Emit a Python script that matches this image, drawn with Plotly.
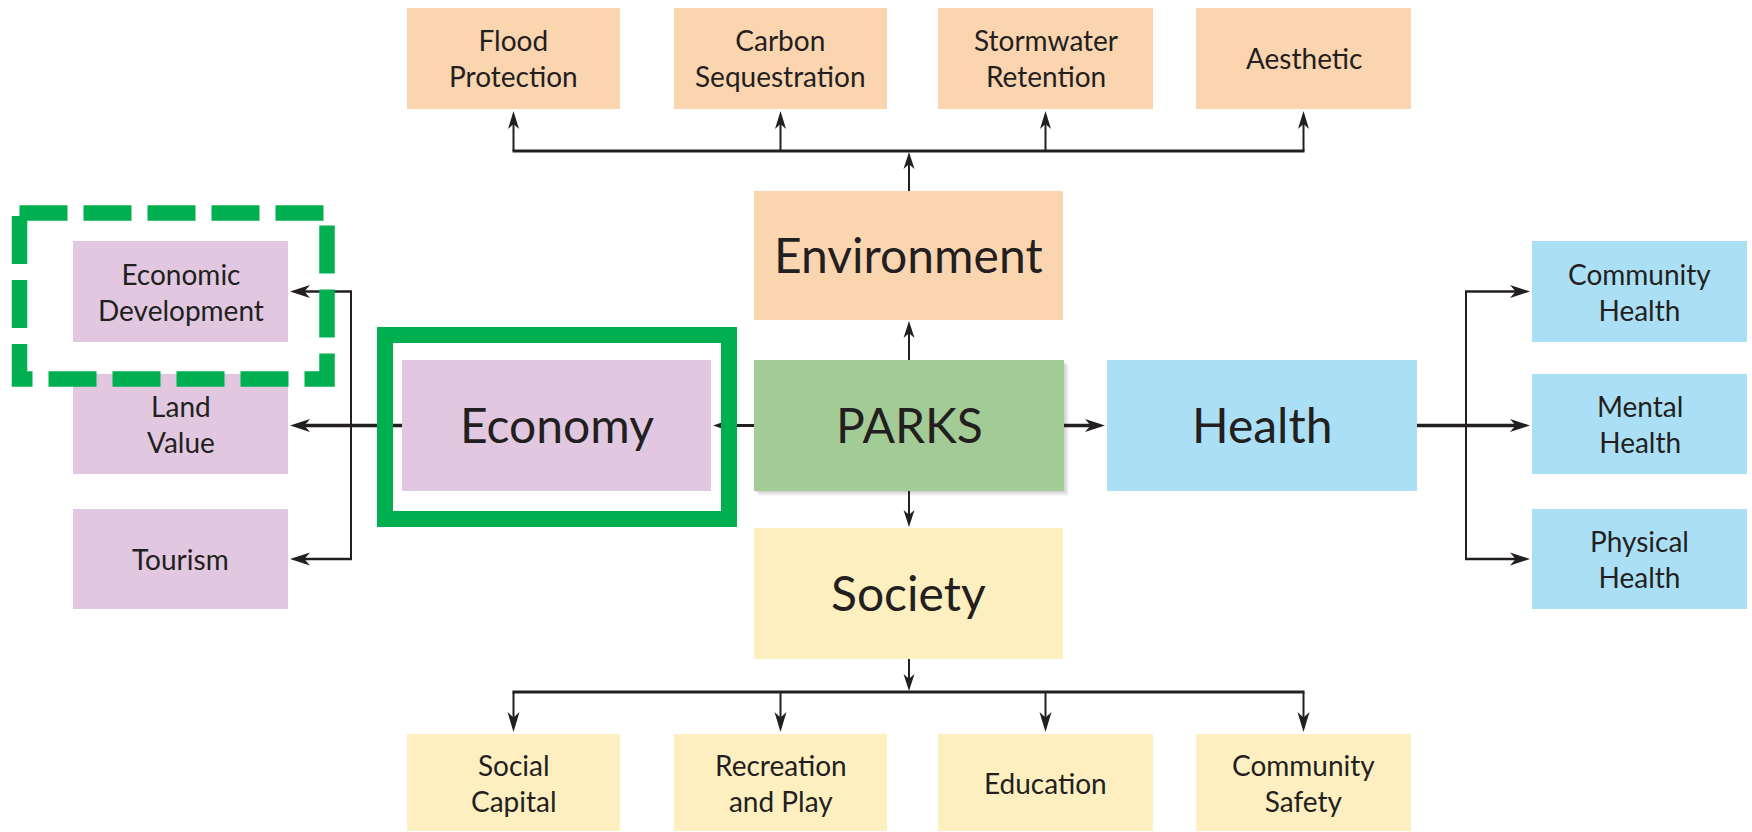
import math
import plotly.graph_objects as go

W, H = 1752, 832

# ---------------- content ----------------
hub_labels = ["Environment", "Economy", "PARKS", "Health", "Society"]
top_labels = ["Flood<br>Protection", "Carbon<br>Sequestration", "Stormwater<br>Retention", "Aesthetic"]
bottom_labels = ["Social<br>Capital", "Recreation<br>and Play", "Education", "Community<br>Safety"]
left_labels = ["Economic<br>Development", "Land<br>Value", "Tourism"]
right_labels = ["Community<br>Health", "Mental<br>Health", "Physical<br>Health"]

# ---------------- layout geometry (pixels) ----------------
col_x = [(407, 620), (674, 887), (938, 1153), (1196, 1411)]
top_y = (8, 109)
bottom_y = (734, 831)
side_rows = [(241, 342), (374, 474), (509, 609)]
left_x = (73, 288)
right_x = (1532, 1747)
hub_box = {
    "Environment": (754, 1063, 191, 320),
    "Economy": (402, 711, 360, 491),
    "PARKS": (754, 1064, 360, 491),
    "Health": (1107, 1417, 360, 491),
    "Society": (754, 1063, 528, 659),
}
top_bar_y = 151
bottom_bar_y = 692
left_branch_x = 351
right_branch_x = 1466

# ---------------- styles ----------------
C_ENV = "#FBD4B0"
C_ECO = "#E1C8E0"
C_PARK = "#A2CB95"
C_HEA = "#ABDFF6"
C_SOC = "#FEEFC0"
C_GREEN = "#00B050"
C_INK = "#231F20"
hub_color = {"Environment": C_ENV, "Economy": C_ECO, "PARKS": C_PARK, "Health": C_HEA, "Society": C_SOC}
FONT = "Lato"
SMALL = 28
BIG = 48

shapes = []
annotations = []


def box(x0, x1, y0, y1, color):
    shapes.append(dict(type="rect", xref="x", yref="y", x0=x0, x1=x1, y0=y0, y1=y1,
                       fillcolor=color, line=dict(width=0), layer="below"))


def label(text, x0, x1, y0, y1, size, dy=0):
    annotations.append(dict(x=(x0 + x1) / 2, y=(y0 + y1) / 2 + dy, xref="x", yref="y",
                            text=text, showarrow=False, xanchor="center", yanchor="middle",
                            align="center",
                            font=dict(family=FONT, size=size, color=C_INK)))


def seg(x0, y0, x1, y1, w=2):
    shapes.append(dict(type="line", xref="x", yref="y", x0=x0, y0=y0, x1=x1, y1=y1,
                       line=dict(color=C_INK, width=w)))


def arrow(x0, y0, x1, y1, w=2, hl=18, hw=12):
    dx, dy = x1 - x0, y1 - y0
    L = math.hypot(dx, dy)
    ux, uy = dx / L, dy / L
    px, py = -uy, ux
    bx, by = x1 - ux * hl * 0.7, y1 - uy * hl * 0.7
    seg(x0, y0, bx, by, w)
    lx, ly = x1 - ux * hl + px * hw / 2, y1 - uy * hl + py * hw / 2
    rx, ry = x1 - ux * hl - px * hw / 2, y1 - uy * hl - py * hw / 2
    nx, ny = x1 - ux * hl * 0.72, y1 - uy * hl * 0.72
    shapes.append(dict(type="path", xref="x", yref="y",
                       path=f"M{x1},{y1} L{lx},{ly} L{nx},{ny} L{rx},{ry} Z",
                       fillcolor=C_INK, line=dict(width=0)))


# PARKS shadow
px0, px1, py0, py1 = hub_box["PARKS"]
for k in range(1, 6):
    shapes.append(dict(type="rect", xref="x", yref="y", x0=px0 + k, x1=px1 + k, y0=py0 + k, y1=py1 + k,
                       fillcolor="rgba(0,0,0,0.035)", line=dict(width=0), layer="below"))

# hub boxes
for name in hub_labels:
    x0, x1, y0, y1 = hub_box[name]
    box(x0, x1, y0, y1, hub_color[name])
    label(name, x0, x1, y0, y1, BIG, dy=-1)

# top / bottom rows
for (x0, x1), t in zip(col_x, top_labels):
    box(x0, x1, top_y[0], top_y[1], C_ENV)
    label(t, x0, x1, top_y[0], top_y[1], SMALL, dy=-1)
for (x0, x1), t in zip(col_x, bottom_labels):
    box(x0, x1, bottom_y[0], bottom_y[1], C_SOC)
    label(t, x0, x1, bottom_y[0], bottom_y[1], SMALL, dy=0)

# side columns
for (y0, y1), t in zip(side_rows, left_labels):
    box(left_x[0], left_x[1], y0, y1, C_ECO)
    label(t, left_x[0], left_x[1], y0, y1, SMALL, dy=0)
for (y0, y1), t in zip(side_rows, right_labels):
    box(right_x[0], right_x[1], y0, y1, C_HEA)
    label(t, right_x[0], right_x[1], y0, y1, SMALL, dy=0)

# ---------------- connectors ----------------
env = hub_box["Environment"]
park = hub_box["PARKS"]
soc = hub_box["Society"]
eco = hub_box["Economy"]
hea = hub_box["Health"]
cx_hub = (park[0] + park[1]) / 2
cy_mid = (park[2] + park[3]) / 2

# PARKS -> Environment / Society
arrow(cx_hub, park[2], cx_hub, env[3] + 1, w=2, hl=17, hw=11)
arrow(cx_hub, park[3], cx_hub, soc[2] - 1, w=2, hl=17, hw=11)
# Environment -> top bar -> top boxes
arrow(cx_hub, env[2], cx_hub, top_bar_y + 1, w=2, hl=17, hw=11)
centers_top = [(a + b) / 2 for a, b in col_x]
seg(centers_top[0] - 1, top_bar_y, centers_top[-1] + 1, top_bar_y, 3)
for cx in centers_top:
    arrow(cx, top_bar_y, cx, top_y[1] + 2, w=2, hl=18, hw=11)
# Society -> bottom bar -> bottom boxes
arrow(cx_hub, soc[3], cx_hub, bottom_bar_y - 1, w=2, hl=17, hw=11)
seg(centers_top[0] - 1, bottom_bar_y, centers_top[-1] + 1, bottom_bar_y, 3)
for cx in centers_top:
    arrow(cx, bottom_bar_y, cx, bottom_y[0] - 2, w=2, hl=20, hw=12)

# PARKS -> Health -> health branches
arrow(park[1], cy_mid, hea[0] - 2, cy_mid, w=3.5, hl=20, hw=13)
row_c = [(a + b) / 2 for a, b in side_rows]
seg(hea[1], cy_mid, right_branch_x, cy_mid, 3.5)
arrow(right_branch_x, cy_mid, right_x[0] - 2, cy_mid, w=3.5, hl=20, hw=13)
seg(right_branch_x, row_c[0], right_branch_x, row_c[-1], 2)
arrow(right_branch_x - 1, row_c[0], right_x[0] - 2, row_c[0], w=2.5, hl=20, hw=13)
arrow(right_branch_x - 1, row_c[-1], right_x[0] - 2, row_c[-1], w=2.5, hl=20, hw=13)

# PARKS -> Economy -> economy branches
arrow(park[0], cy_mid, eco[1] + 2, cy_mid, w=3, hl=16, hw=11)
seg(eco[0], cy_mid, left_branch_x, cy_mid, 3.5)
arrow(left_branch_x, cy_mid, left_x[1] + 2, cy_mid, w=3.5, hl=20, hw=13)
seg(left_branch_x, row_c[0], left_branch_x, row_c[-1], 2)
arrow(left_branch_x + 1, row_c[0], left_x[1] + 2, row_c[0], w=2.5, hl=20, hw=13)
arrow(left_branch_x + 1, row_c[-1], left_x[1] + 2, row_c[-1], w=2.5, hl=20, hw=13)

# ---------------- highlight frames ----------------
shapes.append(dict(type="rect", xref="x", yref="y", x0=eco[0] - 17, x1=eco[1] + 18, y0=eco[2] - 25, y1=eco[3] + 28,
                   line=dict(color=C_GREEN, width=16), fillcolor="rgba(0,0,0,0)", layer="above"))
shapes.append(dict(type="rect", xref="x", yref="y", x0=19.5, x1=327, y0=213, y1=379,
                   line=dict(color=C_GREEN, width=15.5, dash="48px,16px"),
                   fillcolor="rgba(0,0,0,0)", layer="above"))

fig = go.Figure()
fig.update_layout(
    width=W, height=H, autosize=False,
    margin=dict(l=0, r=0, t=0, b=0, pad=0),
    paper_bgcolor="white", plot_bgcolor="white",
    xaxis=dict(range=[0, W], visible=False, fixedrange=True),
    yaxis=dict(range=[H, 0], visible=False, fixedrange=True),
    shapes=shapes, annotations=annotations, showlegend=False,
)
fig.write_html("out.html", config={"displayModeBar": False},
               post_script="document.body.style.margin='0';document.body.style.overflow='hidden';")
